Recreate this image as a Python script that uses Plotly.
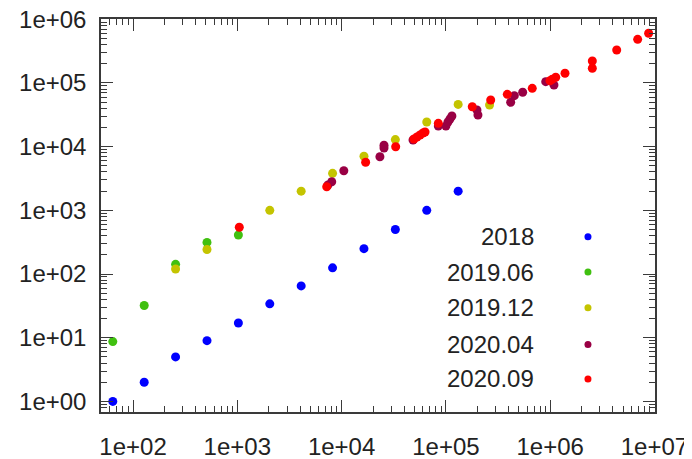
import plotly.graph_objects as go

# ---- data ----
series_names = ["2018", "2019.06", "2019.12", "2020.04", "2020.09"]
series_colors = ["#0000ff", "#40c010", "#c4c400", "#990044", "#ff0000"]

x_2018 = [64, 128, 256, 512, 1024, 2048, 4096, 8192, 16384, 32768, 65536, 131072]
y_2018 = [1, 2, 5, 9, 17, 34, 65, 125, 250, 500, 1000, 2000]

x_2019_06 = [64, 128, 256, 512, 1024]
y_2019_06 = [8.7, 32, 142, 313, 410]

x_2019_12 = [256, 512, 2048, 4096, 8192, 16384, 32768, 65536, 131072, 262144]
y_2019_12 = [120, 243, 1000, 2000, 3800, 7050, 12900, 24300, 46000, 45000]

x_2020_04 = [7400, 8040, 10500, 23300, 25500, 25500, 48400, 84600, 100000, 104700,
             109400, 114200, 198600, 203000, 418000, 453000, 545000, 906000, 1087000]
y_2020_04 = [2500, 2810, 4185, 6940, 9500, 10500, 12700, 21000, 21000, 24300,
             27100, 30200, 37600, 31300, 49600, 63000, 71200, 104500, 92700]

x_2020_09 = [1045, 7200, 17000, 33000, 49400, 52800, 56500, 60300, 63100, 84600,
             179000, 269000, 388000, 673000, 995000, 1047000, 1130000, 1387000,
             2535000, 2535000, 4345000, 6900000, 8790000]
y_2020_09 = [541, 2345, 5670, 9960, 13150, 14150, 15200, 16350, 16950, 23200,
             42300, 53900, 66200, 82200, 108000, 114000, 122500, 141500,
             221000, 169500, 328000, 483000, 601000]

x_tickvals = [1e2, 1e3, 1e4, 1e5, 1e6, 1e7]
x_ticktext = ["1e+02", "1e+03", "1e+04", "1e+05", "1e+06", "1e+07"]
y_tickvals = [1e0, 1e1, 1e2, 1e3, 1e4, 1e5, 1e6]
y_ticktext = ["1e+00", "1e+01", "1e+02", "1e+03", "1e+04", "1e+05", "1e+06"]

all_x = [x_2018, x_2019_06, x_2019_12, x_2020_04, x_2020_09]
all_y = [y_2018, y_2019_06, y_2019_12, y_2020_04, y_2020_09]

FONT = "Liberation Sans"
AX = "#3a3a3a"

fig = go.Figure()
for name, col, xs, ys in zip(series_names, series_colors, all_x, all_y):
    fig.add_trace(go.Scatter(x=xs, y=ys, mode="markers", name=name,
                             marker=dict(color=col, size=9, symbol="circle",
                                         line=dict(width=0)),
                             showlegend=False))

# custom legend: right-aligned text, marker on the right
leg_y = [0.446, 0.356, 0.265, 0.172, 0.084]
annotations = []
shapes = []
for name, col, yy in zip(series_names, series_colors, leg_y):
    annotations.append(dict(xref="paper", yref="paper", x=0.785, y=yy,
                            xanchor="right", yanchor="middle", text=name,
                            showarrow=False,
                            font=dict(family=FONT, size=24, color="#222222")))
    shapes.append(dict(type="circle", xref="paper", yref="paper",
                       xsizemode="pixel", ysizemode="pixel",
                       xanchor=0.879, yanchor=yy,
                       x0=-3.5, x1=3.5, y0=-3.5, y1=3.5,
                       fillcolor=col, line=dict(width=0)))

axis_common = dict(
    type="log", showgrid=False, zeroline=False,
    showline=True, linecolor=AX, linewidth=1.5, mirror="allticks",
    ticks="inside", ticklen=12, tickwidth=1.3, tickcolor=AX,
    tickfont=dict(family=FONT, size=24, color="#222222"),
    ticklabeloverflow="allow",
    minor=dict(ticks="inside", ticklen=6, tickwidth=1.1, tickcolor=AX,
               dtick="D1", showgrid=False),
)

fig.update_xaxes(**axis_common, range=[1.693, 7.005],
                 tickvals=x_tickvals, ticktext=x_ticktext,
                 ticklabelstandoff=12)
fig.update_yaxes(**axis_common, range=[-0.166, 6.003],
                 tickvals=y_tickvals, ticktext=y_ticktext,
                 ticklabelstandoff=8)

# page body adds an 8px margin; compensate so the plot frame lands at
# x 101..655, y 19..412 in the window
fig.update_layout(
    width=684, height=451,
    margin=dict(l=93, r=37, t=11, b=47, autoexpand=False),
    paper_bgcolor="white", plot_bgcolor="white",
    annotations=annotations, shapes=shapes,
    font=dict(family=FONT),
)

fig.write_html("out.html")
